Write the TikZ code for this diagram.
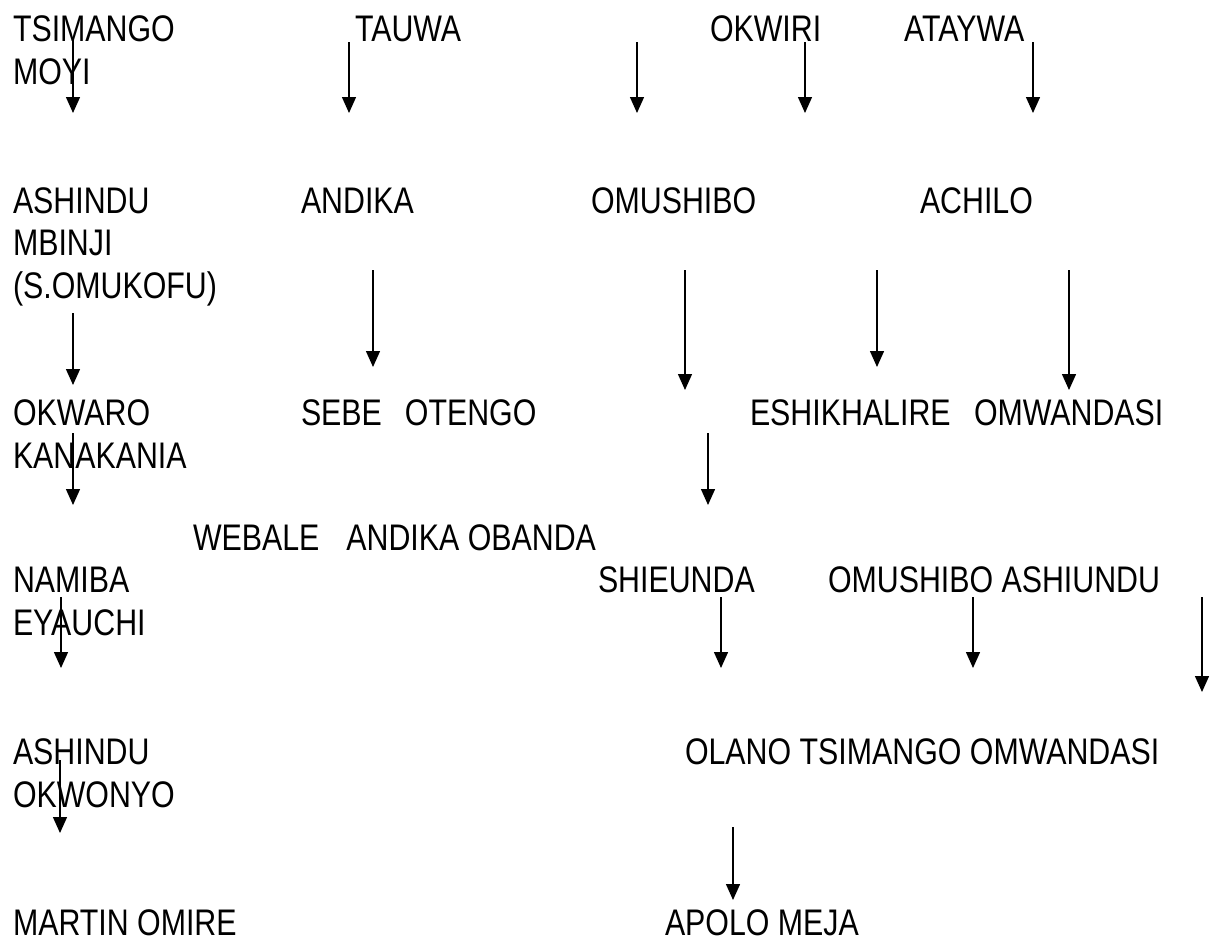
\documentclass[tikz,border=0pt]{standalone}
\usepackage{fontspec}
\setmainfont{Liberation Sans}[FakeStretch=0.82]
\usetikzlibrary{arrows.meta}
\tikzset{
  person/.style={anchor=base west, inner sep=0pt, outer sep=0pt, align=left, font={\fontsize{37}{42.3}\selectfont}},
  link/.style={line width=1.4pt, -{Triangle[width=14pt,length=16pt]}}
}
\begin{document}
\begin{tikzpicture}[x=1pt,y=-1pt]
\useasboundingbox (0,0) rectangle (1210,938);
% names (multi-line nodes are placed by the baseline of their last line)
\node[person] (tsimango) at (13,84) {TSIMANGO\\MOYI};
\node[person] (tauwa) at (355,41.7) {TAUWA};
\node[person] (okwiri) at (710,41.7) {OKWIRI};
\node[person] (ataywa) at (904,41.7) {ATAYWA};
\node[person] (ashindu1) at (13,298) {ASHINDU\\MBINJI\\(S.OMUKOFU)};
\node[person] (andika) at (301,213) {ANDIKA};
\node[person] (omushibo1) at (591,213) {OMUSHIBO};
\node[person] (achilo) at (920,213) {ACHILO};
\node[person] (okwaro) at (13,468) {OKWARO\\KANAKANIA};
\node[person] (sebe) at (301,425) {SEBE\hspace{23pt}OTENGO};
\node[person] (eshikhalire) at (750,425) {ESHIKHALIRE};
\node[person] (omwandasi1) at (974,425) {OMWANDASI};
\node[person] (webale) at (193,550) {WEBALE\hspace{27pt}ANDIKA OBANDA};
\node[person] (namiba) at (13,635) {NAMIBA\\EYAUCHI};
\node[person] (shieunda) at (598,592) {SHIEUNDA};
\node[person] (omushibo2) at (828,592) {OMUSHIBO ASHIUNDU};
\node[person] (ashindu2) at (13,807) {ASHINDU\\OKWONYO};
\node[person] (olano) at (685,764) {OLANO TSIMANGO OMWANDASI};
\node[person] (martin) at (13,935) {MARTIN OMIRE};
\node[person] (apolo) at (665,935) {APOLO MEJA};
% arrow ends
\foreach \i/\x/\a/\b in {1/73/38/113, 2/349/42/113, 3/637/42/113, 4/805/42/113, 5/1033/42/113,
  6/73/313/385, 7/373/270/367, 8/685/270/390, 9/877/270/367, 10/1069/270/390,
  11/73/433/505, 12/708/433/505, 13/61/597/668, 14/721/597/668, 15/973/597/668,
  16/1202/597/692, 17/60/760/833, 18/733/827/900}{
  \coordinate (s\i) at (\x,\a);
  \coordinate (e\i) at (\x,\b);
}
\foreach \i in {1,...,18}{\draw[link] (s\i) -- (e\i);}
\end{tikzpicture}
\end{document}
